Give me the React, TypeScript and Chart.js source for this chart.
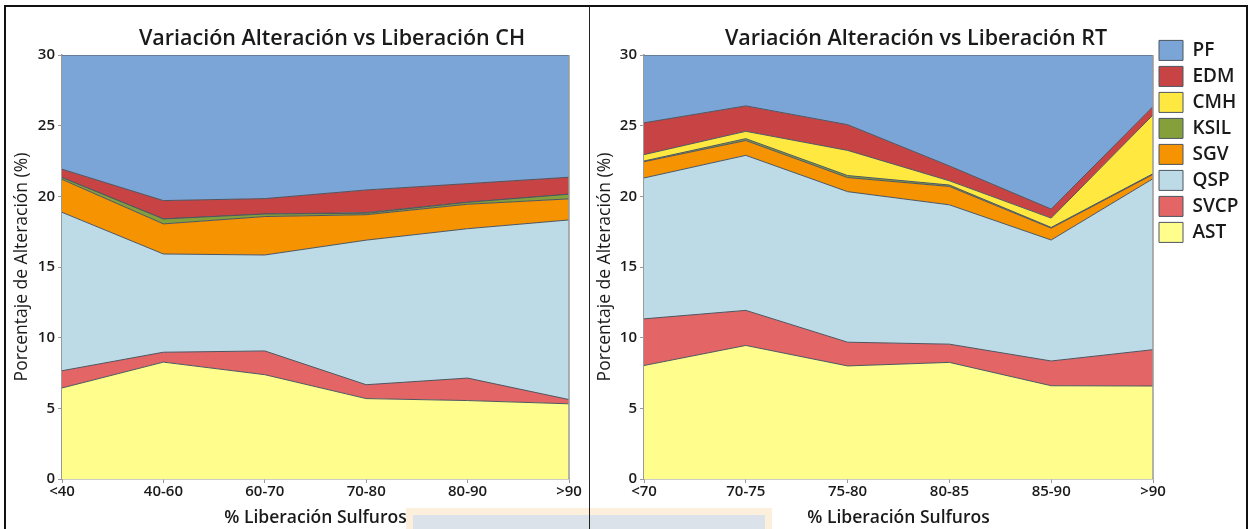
import React, { useEffect, useRef } from 'react';
import { Chart, registerables } from 'chart.js';

Chart.register(...registerables);

// ---------- data ----------
const seriesNames = ['AST', 'SVCP', 'QSP', 'SGV', 'KSIL', 'CMH', 'EDM', 'PF'];
const seriesColors = ['#FFFD8C', '#E46565', '#BDDBE6', '#F59300', '#85A03A', '#FFE840', '#C84444', '#7BA5D6'];

const chLabels = ['<40', '40-60', '60-70', '70-80', '80-90', '>90'];
const chAST = [6.44, 8.27, 7.38, 5.69, 5.55, 5.32];
const chSVCP = [1.22, 0.7, 1.68, 0.98, 1.59, 0.3];
const chQSP = [11.21, 6.95, 6.79, 10.23, 10.57, 12.71];
const chSGV = [2.33, 2.13, 2.72, 1.8, 1.73, 1.49];
const chKSIL = [0.13, 0.35, 0.18, 0.1, 0.14, 0.33];
const chCMH = [0, 0, 0, 0.05, 0, 0];
const chEDM = [0.59, 1.3, 1.09, 1.6, 1.32, 1.2];
const chPF = [8.08, 10.3, 10.16, 9.55, 9.1, 8.65];

const rtLabels = ['<70', '70-75', '75-80', '80-85', '85-90', '>90'];
const rtAST = [8.03, 9.45, 8.0, 8.25, 6.6, 6.58];
const rtSVCP = [3.3, 2.48, 1.68, 1.29, 1.75, 2.57];
const rtQSP = [9.97, 10.97, 10.65, 9.86, 8.56, 12.1];
const rtSGV = [1.15, 1.05, 1.0, 1.3, 0.84, 0.3];
const rtKSIL = [0.05, 0.13, 0.14, 0.1, 0.05, 0.05];
const rtCMH = [0.45, 0.52, 1.78, 0.3, 0.66, 4.16];
const rtEDM = [2.25, 1.8, 1.82, 1.05, 0.64, 0.59];
const rtPF = [4.8, 3.6, 4.93, 7.85, 10.9, 3.65];

const titleCH = 'Variación Alteración vs Liberación CH';
const titleRT = 'Variación Alteración vs Liberación RT';
const yTitle = 'Porcentaje de Alteración (%)';
const xTitle = '% Liberación Sulfuros';
const yMin = 0;
const yMax = 30;
const yStep = 5;

const FONT = "'Open Sans', 'Noto Sans', sans-serif";
const TEXT = '#1a1a1a';
const AXIS = '#9a9a9a';
const OUTLINE = '#4d5661';

function buildDatasets(values: number[][]) {
  return values.map((data, i) => ({
    label: seriesNames[i],
    data,
    backgroundColor: seriesColors[i],
    borderColor: OUTLINE,
    borderWidth: 1,
    fill: i === 0 ? 'origin' : '-1',
    pointRadius: 0,
    pointHoverRadius: 0,
    tension: 0,
  }));
}

const edgePlugin = {
  id: 'plotEdge',
  afterDatasetsDraw(chart: any) {
    const { ctx, chartArea } = chart;
    ctx.save();
    ctx.strokeStyle = AXIS;
    ctx.lineWidth = 1.5;
    ctx.beginPath();
    ctx.moveTo(chartArea.right, chartArea.top);
    ctx.lineTo(chartArea.right, chartArea.bottom);
    ctx.stroke();
    ctx.restore();
  },
};

function legendWidthPlugin(w: number) {
  return {
    id: 'legendWidth',
    beforeLayout(chart: any) {
      const lg = chart.legend;
      if (lg && !lg.__patched) {
        const orig = lg.fit.bind(lg);
        lg.fit = function () {
          orig();
          this.width = w;
        };
        lg.__patched = true;
      }
    },
  };
}

function makeOptions(opts: {
  title: string;
  yWidth: number;
  yTitlePad: number;
  legend: boolean;
  rightAxisWidth?: number;
  padRight: number;
}) {
  const tickFont = { family: FONT, size: 15, weight: '600' as any };
  const scales: any = {
    x: {
      type: 'category',
      offset: false,
      grid: { drawOnChartArea: false, drawTicks: true, tickLength: 4, color: AXIS },
      border: { color: AXIS, width: 1.5 },
      ticks: { font: tickFont, color: TEXT, padding: 0, maxRotation: 0, autoSkip: false },
      title: {
        display: true,
        text: xTitle,
        font: { family: FONT, size: 17.5, weight: '600' as any },
        color: TEXT,
        padding: { top: 0, bottom: 0 },
      },
      afterFit(s: any) {
        s.height = 50;
      },
    },
    y: {
      stacked: true,
      min: yMin,
      max: yMax,
      grid: { drawOnChartArea: false, drawTicks: true, tickLength: 4, color: AXIS },
      border: { color: AXIS, width: 1.5 },
      ticks: { stepSize: yStep, font: tickFont, color: TEXT, padding: 3 },
      title: {
        display: true,
        text: yTitle,
        font: { family: FONT, size: 17.5, weight: '500' as any },
        color: TEXT,
        padding: { top: opts.yTitlePad, bottom: 0 },
      },
      afterFit(s: any) {
        s.width = opts.yWidth;
      },
    },
  };
  if (opts.rightAxisWidth) {
    scales.yR = {
      position: 'right',
      min: yMin,
      max: yMax,
      display: true,
      grid: { display: false },
      border: { display: false },
      ticks: { display: false },
      afterFit(s: any) {
        s.width = opts.rightAxisWidth;
      },
    };
  }
  return {
    responsive: false,
    animation: false as const,
    events: [] as any[],
    layout: { padding: { left: 0, right: opts.padRight, top: 0, bottom: 0 } },
    plugins: {
      tooltip: { enabled: false },
      title: {
        display: true,
        text: opts.title,
        font: { family: FONT, size: 21.5, weight: '600' as any },
        color: TEXT,
        padding: { top: 26, bottom: 3.2 },
      },
      legend: opts.legend
        ? {
            display: true,
            position: 'right' as const,
            align: 'start' as const,
            reverse: true,
            title: { display: true, text: ' ', font: { size: 10 }, padding: { top: 22.4, bottom: 0 } },
            labels: {
              boxWidth: 24,
              boxHeight: 20,
              padding: 6,
              color: TEXT,
              font: { family: FONT, size: 19, weight: '600' as any },
            },
          }
        : { display: false },
    },
    scales,
  };
}

function ChartCanvas(props: {
  labels: string[];
  values: number[][];
  title: string;
  width: number;
  left: number;
  yWidth: number;
  yTitlePad: number;
  legend: boolean;
  rightAxisWidth?: number;
  padRight: number;
  legendW?: number;
}) {
  const ref = useRef<HTMLCanvasElement | null>(null);
  useEffect(() => {
    if (!ref.current) return;
    const plugins: any[] = [edgePlugin];
    if (props.legend && props.legendW) plugins.push(legendWidthPlugin(props.legendW));
    const chart = new Chart(ref.current, {
      type: 'line',
      data: { labels: props.labels, datasets: buildDatasets(props.values) as any },
      options: makeOptions(props) as any,
      plugins,
    });
    return () => chart.destroy();
  }, []);
  return (
    <canvas
      ref={ref}
      width={props.width}
      height={529}
      style={{ position: 'absolute', left: props.left, top: 0, width: props.width, height: 529 }}
    />
  );
}

export default function App() {
  return (
    <div
      style={{
        position: 'absolute',
        left: 0,
        top: 0,
        width: 1251,
        height: 529,
        overflow: 'hidden',
        background: '#ffffff',
      }}
    >
      <div style={{ position: 'absolute', left: 406, top: 508, width: 366, height: 40, background: '#FCF0DD' }} />
      <div style={{ position: 'absolute', left: 413, top: 515, width: 352, height: 40, background: '#DCE2EA' }} />
      <div
        style={{
          position: 'absolute',
          left: 4,
          top: 5,
          width: 1244,
          height: 600,
          border: '2px solid #111',
          boxSizing: 'border-box',
        }}
      />
      <ChartCanvas
        labels={chLabels}
        values={[chAST, chSVCP, chQSP, chSGV, chKSIL, chCMH, chEDM, chPF]}
        title={titleCH}
        width={664}
        left={0}
        yWidth={62}
        yTitlePad={12}
        legend={false}
        rightAxisWidth={95}
        padRight={0}
      />
      <ChartCanvas
        labels={rtLabels}
        values={[rtAST, rtSVCP, rtQSP, rtSGV, rtKSIL, rtCMH, rtEDM, rtPF]}
        title={titleRT}
        width={661}
        left={590}
        yWidth={54}
        yTitlePad={4.4}
        legend={true}
        padRight={9}
        legendW={89}
      />
      <div style={{ position: 'absolute', left: 589, top: 6, width: 1, height: 523, background: '#222' }} />
    </div>
  );
}
